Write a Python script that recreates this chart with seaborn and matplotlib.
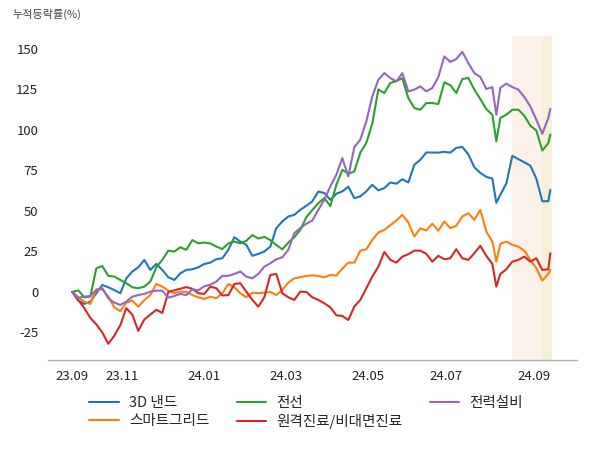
import matplotlib
matplotlib.use("Agg")
import matplotlib.pyplot as plt
import numpy as np
import pandas as pd
import seaborn as sns

# ---------------- data ----------------
series_names = ["3D 낸드", "스마트그리드", "전선", "원격진료/비대면진료", "전력설비"]

start_date = "2023-09-20"
end_date = "2024-09-13"
krx_holidays = ["2023-09-28", "2023-09-29", "2023-10-02", "2023-10-03", "2023-10-09",
                "2023-12-25", "2023-12-29", "2024-01-01", "2024-02-09", "2024-02-12",
                "2024-03-01", "2024-04-10", "2024-05-01", "2024-05-06", "2024-05-15",
                "2024-06-06", "2024-08-15"]

# trading-day positions of the sampled values
sample_days = list(range(0, 211, 3)) + [212, 214, 217, 220, 223, 226, 229, 232, 235, 238, 239]

nand = [0, -5.3, -7.4, -6, -0.8, 4.3, 2.9, 1.2, -0.8, 8.4, 12.6, 15.2, 19.8, 13.6, 17.3, 13.6,
        9.1, 7.4, 11.5, 13.6, 14, 15.2, 17.3, 18.1, 20.2, 20.8, 26, 33.8, 31.1, 29.1, 22.3, 23.5,
        25, 28, 39.4, 43.5, 46.6, 47.6, 50.7, 53.2, 55.9, 62, 61.1, 56.9, 60.6, 62.1, 65, 57.9,
        59, 62.1, 66.2, 62.7, 64.1, 67.6, 66.8, 69.6, 67.6, 78.5, 81.6, 86.1, 86.1,
        86, 86.5, 86, 89, 89.5, 85, 77, 73.5, 71, 70,
        55, 60, 67, 84, 82, 80, 78, 70, 56, 56, 63]

smartgrid = [0, -3.3, -6, -7.4, 1.6, 1.6, -2.9, -9.5, -11.8, -6.6, -5.3, -9.1, -5, -1.9, 5, 3.3,
             0.8, -0.8, 0.2, 0, -1.9, -3.3, -4.3, -2.9, -3.9, -0.8, 4.9, 2.9, -0.8, -3.3, -0.4,
             -0.8, -0.4, 0, -1.9, 1.2, 5.8, 8.4, 9.1, 9.9, 10.3, 9.9, 9, 10.5, 10.1, 14.4, 18.1,
             18.1, 25.5, 26.4, 32.1, 36.7, 38.3, 41.2, 44.1, 47.6, 42.9, 34.2, 39.2, 38, 42.1,
             37.8, 43.5, 39.4, 40.9, 46.6, 48.6, 44.5, 50.7, 37.3, 31.1,
             18.7, 29.7, 31.1, 29.1, 28, 25.5, 19.8, 14.6, 7, 11.1, 13.6]

cable = [0, 1, -3.3, -2.9, 14.6, 16, 9.9, 9.5, 7.4, 5.4, 2.9, 2.3, 3.3, 6.4, 15.2, 19.8, 25.5,
         24.9, 27.6, 26, 32, 30, 30.5, 30, 28, 26.5, 30, 31.1, 30, 31.6, 35.1, 33, 34, 32, 29,
         26.3, 30.5, 33.8, 38.3, 46.1, 50.6, 54.8, 58, 53, 66, 75.4, 73, 74.4, 86, 92, 104, 125,
         122.8, 129, 130.2, 131.9, 119.7, 113.5, 112.5, 116.6, 116.6,
         116, 129.4, 127.6, 122.8, 131.4, 132.1, 124.9, 119.1, 112.9, 109.4,
         93, 107.4, 109.4, 112.5, 112.5, 108.8, 102.6, 99.7, 87.3, 91.9, 97.1]

telemed = [0, -5, -10, -16, -20, -25, -32, -27, -20.5, -10, -14, -24, -17, -14, -11, -13, 0, 1,
           2, 3, 2, -0.8, -1.2, 3.3, 2.3, -2.1, -2, 4.9, 5.4, 0.2, -4.9, -9.1, -3.3, 10.5, 11.1,
           -0.8, -3.3, -4.9, 0.2, 0, -3.3, -4.9, -7, -9.5, -14.4, -14.8, -17.3, -9, -4.9, 2.3,
           9.5, 15.6, 24.7, 19.8, 18.1, 21.8, 23.3, 25.5, 25.5, 23.5, 18.7,
           22.3, 20.2, 20.8, 26.4, 20.8, 19.8, 23.9, 28.5, 22.3, 17.3,
           3.3, 11.1, 14, 18.7, 19.8, 21.8, 18.7, 20.8, 13.6, 14, 23.9]

power = [0, -3.6, -2.9, -2.5, 1.2, 2.3, -3.9, -6.6, -8, -6, -2.9, -1.9, -1.2, 0.2, 0.8, 0.8,
         -3.5, -2.5, -1.2, -1.9, 1.6, 1, 3.5, 4.5, 6.4, 9.9, 10, 11.1, 12.6, 9.5, 8.4, 11.1,
         15.6, 17.7, 20.2, 21.4, 26, 36.3, 39.4, 42.1, 44.1, 50.7, 56.9, 65.2, 72.3, 82.6, 71.3,
         89.4, 94, 105.3, 120.7, 131, 135.1, 132.1, 129.9, 135.1, 123.8, 124.9, 126.9, 123.8,
         125.9,
         132.7, 145.4, 142, 143.8, 148.2, 141.3, 135.1, 132.7, 125.3, 126.4,
         109.4, 126, 128.6, 126.5, 124.9, 120.3, 114.6, 106.3, 97.7, 107.4, 113]

tick_months = ["2023-09", "2023-11", "2024-01", "2024-03", "2024-05", "2024-07", "2024-09"]
tick_labels = ["23.09", "23.11", "24.01", "24.03", "24.05", "24.07", "24.09"]
y_ticks = [-25, 0, 25, 50, 75, 100, 125, 150]
tan_span = ("2024-08-16", "2024-09-06")
yellow_span = ("2024-09-06", "2024-09-13")
y_title = "누적등락률(%)"

# ---------------- build ----------------
dates = pd.bdate_range(start_date, end_date)
dates = dates[~dates.isin(pd.to_datetime(krx_holidays))]

def pos(d):
    return int(np.searchsorted(dates, pd.Timestamp(d)))

values = [nand, smartgrid, cable, telemed, power]
frames = []
for name, vals in zip(series_names, values):
    frames.append(pd.DataFrame({"day": sample_days, "value": vals, "series": name}))
df = pd.concat(frames, ignore_index=True)

sns.set_style("white")
plt.rcParams["font.family"] = ["Noto Sans CJK KR", "DejaVu Sans"]
plt.rcParams["axes.unicode_minus"] = False

fig = plt.figure(figsize=(6, 4.5), dpi=100)
ax = fig.add_axes([0.08, 0.2, 0.8817, 0.72])

ax.axvspan(pos(tan_span[0]), pos(tan_span[1]), color="#fbf1e8", zorder=0, lw=0)
ax.axvspan(pos(yellow_span[0]), pos(yellow_span[1]), color="#f6f1d6", zorder=0, lw=0)

sns.lineplot(data=df, x="day", y="value", hue="series", hue_order=series_names,
             palette=sns.color_palette("tab10", 5), linewidth=1.5, ax=ax, zorder=3)

ax.set_xlim(-12.15, 252.35)
ax.set_ylim(-42, 158)
ax.set_yticks(y_ticks)
ax.set_yticklabels([str(t) for t in y_ticks])
ax.set_xticks([pos(m + "-01") for m in tick_months])
ax.set_xticklabels(tick_labels)
ax.set_xlabel("")
ax.set_ylabel("")

for s in ["top", "right", "left"]:
    ax.spines[s].set_visible(False)
ax.spines["bottom"].set_color("#b0b0b0")
ax.spines["bottom"].set_linewidth(1.0)
ax.tick_params(axis="both", which="both", labelsize=9.5, colors="#222222",
               length=4, width=0.9, pad=3)

handles, labels = ax.get_legend_handles_labels()
ax.legend(handles, labels, loc="upper center", bbox_to_anchor=(0.488, -0.07), ncol=3,
          frameon=False, fontsize=10.5, columnspacing=1.9, handlelength=2.0,
          handletextpad=0.7, labelspacing=0.3)

fig.text(0.021, 0.969, y_title, fontsize=8, color="#444444", va="center", ha="left")

fig.savefig("out.png", dpi=100)
